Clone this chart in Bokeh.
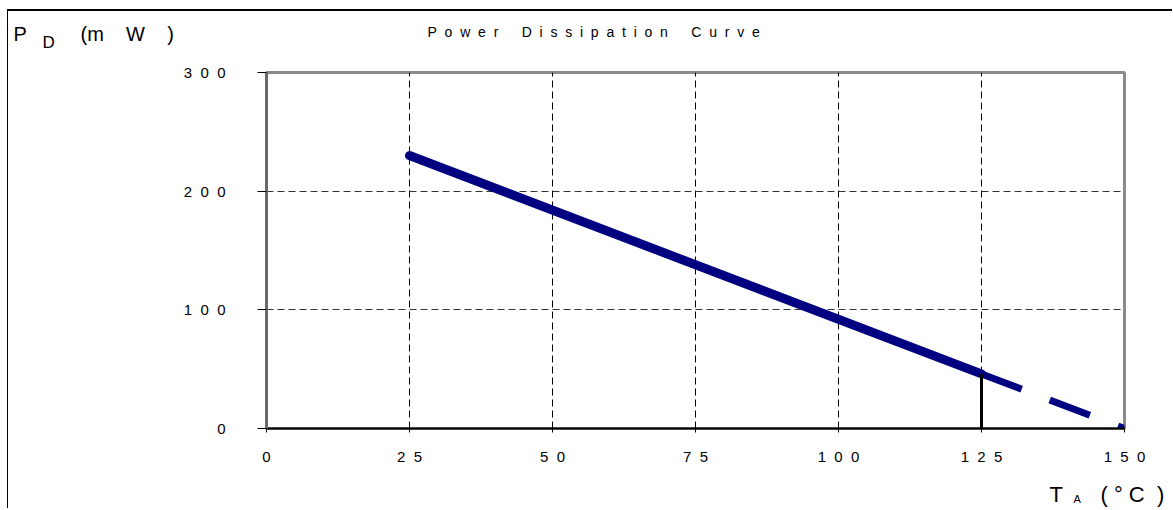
from bokeh.plotting import figure
from bokeh.models import Label, FixedTicker, Range1d
from bokeh.embed import file_html
from bokeh.resources import INLINE

# ---- data ----
temps_solid = [25, 125]
power_solid = [230, 46]
temps_derate = [125, 150]
power_derate = [46, 0]
marker_x = [125, 125]
marker_y = [0, 46]

x_ticks = [0, 25, 50, 75, 100, 125, 150]
x_tick_labels = ["0", "2 5", "5 0", "7 5", "1 0 0", "1 2 5", "1 5 0"]
y_ticks = [0, 100, 200, 300]
y_tick_labels = ["0", "1 0 0", "2 0 0", "3 0 0"]
x_grid = [25, 50, 75, 100, 125]
y_grid = [100, 200]

title_text = "Power Dissipation Curve"

FONT = "Liberation Sans"
NB = "\u00a0"


def spaced(s, gap=2, word=6):
    words = s.split(" ")
    return (NB * word).join((NB * gap).join(list(w)) for w in words)


def tick_lbl(s):
    return s.replace(" ", NB * 2)


# page / canvas geometry (layout only)
PAGE_W, PAGE_H = 1173, 510
CX, CY = 8, 11
W, H = PAGE_W - CX, PAGE_H - CY
FL, FR, FT, FB = 266, 1124, 72, 428   # frame edges on the page

p = figure(width=W, height=H,
           x_range=Range1d(0, 150), y_range=Range1d(0, 300),
           output_backend="svg", toolbar_location=None,
           min_border_left=FL - CX, min_border_right=W - (FR - CX),
           min_border_top=FT - CY, min_border_bottom=H - (FB - CY))
p.styles = {"margin-left": "7px", "margin-top": "9px",
            "border-left": "1px solid black", "border-top": "2px solid black"}

p.background_fill_color = "white"
p.border_fill_color = "white"
p.outline_line_color = "#8a8a8a"
p.outline_line_width = 3

# axes
p.xaxis.ticker = FixedTicker(ticks=x_ticks)
p.xaxis.major_label_overrides = {t: tick_lbl(l) for t, l in zip(x_ticks, x_tick_labels)}
p.yaxis.ticker = FixedTicker(ticks=y_ticks)
p.yaxis.major_label_overrides = {t: tick_lbl(l) for t, l in zip(y_ticks, y_tick_labels)}
for ax in (p.xaxis, p.yaxis):
    ax.major_label_text_font = FONT
    ax.major_label_text_font_size = "15px"
    ax.major_label_text_color = "black"
    ax.minor_tick_line_color = None
    ax.major_tick_in = 0
    ax.major_tick_line_color = "black"
p.xaxis.axis_line_color = "black"
p.xaxis.axis_line_width = 2
p.xaxis.major_tick_out = 4
p.xaxis.major_label_standoff = 15
p.yaxis.axis_line_color = "#6a6a6a"
p.yaxis.axis_line_width = 3
p.yaxis.major_tick_out = 9
p.yaxis.major_label_standoff = 32

# grid
p.xgrid.ticker = FixedTicker(ticks=x_grid)
p.ygrid.ticker = FixedTicker(ticks=y_grid)
p.xgrid.grid_line_color = "black"
p.ygrid.grid_line_color = "#333333"
for g in (p.xgrid, p.ygrid):
    g.grid_line_dash = "7 4"
    g.grid_line_width = 1

# data
p.line(temps_derate, power_derate, line_color="#000080", line_width=7,
       line_dash="43 30", line_cap="butt")
p.line(temps_solid, power_solid, line_color="#000080", line_width=9,
       line_cap="round")
p.line(marker_x, marker_y, line_color="black", line_width=3)

# transparent overlay figure (page pixel coordinates) for the free texts
q = figure(width=PAGE_W, height=PAGE_H,
           x_range=Range1d(0, PAGE_W), y_range=Range1d(PAGE_H, 0),
           output_backend="svg", toolbar_location=None,
           x_axis_type=None, y_axis_type=None, min_border=0)
q.background_fill_color = None
q.border_fill_color = None
q.outline_line_color = None
q.styles = {"position": "absolute", "left": "0px", "top": "0px"}


def txt(x, baseline, text, size):
    # empirical shift so the glyph baseline lands on `baseline`
    q.add_layout(Label(x=x, y=baseline - 0.42 * size, text=text, text_font=FONT,
                       text_font_size=f"{size}px", text_color="black",
                       text_align="left", text_baseline="alphabetic"))


txt(427, 37, spaced(title_text), 14)
txt(13, 42, "P", 20)
txt(42, 49, "D", 17)
txt(80, 42, "(m" + NB * 4 + "W" + NB * 4 + ")", 20)
txt(1049, 503, "T", 22)
txt(1073, 503, "A", 11)
txt(1100, 503, "(" + NB + "°" + NB + "C" + NB * 2 + ")", 22)

open("out.html", "w").write(file_html([p, q], INLINE))
